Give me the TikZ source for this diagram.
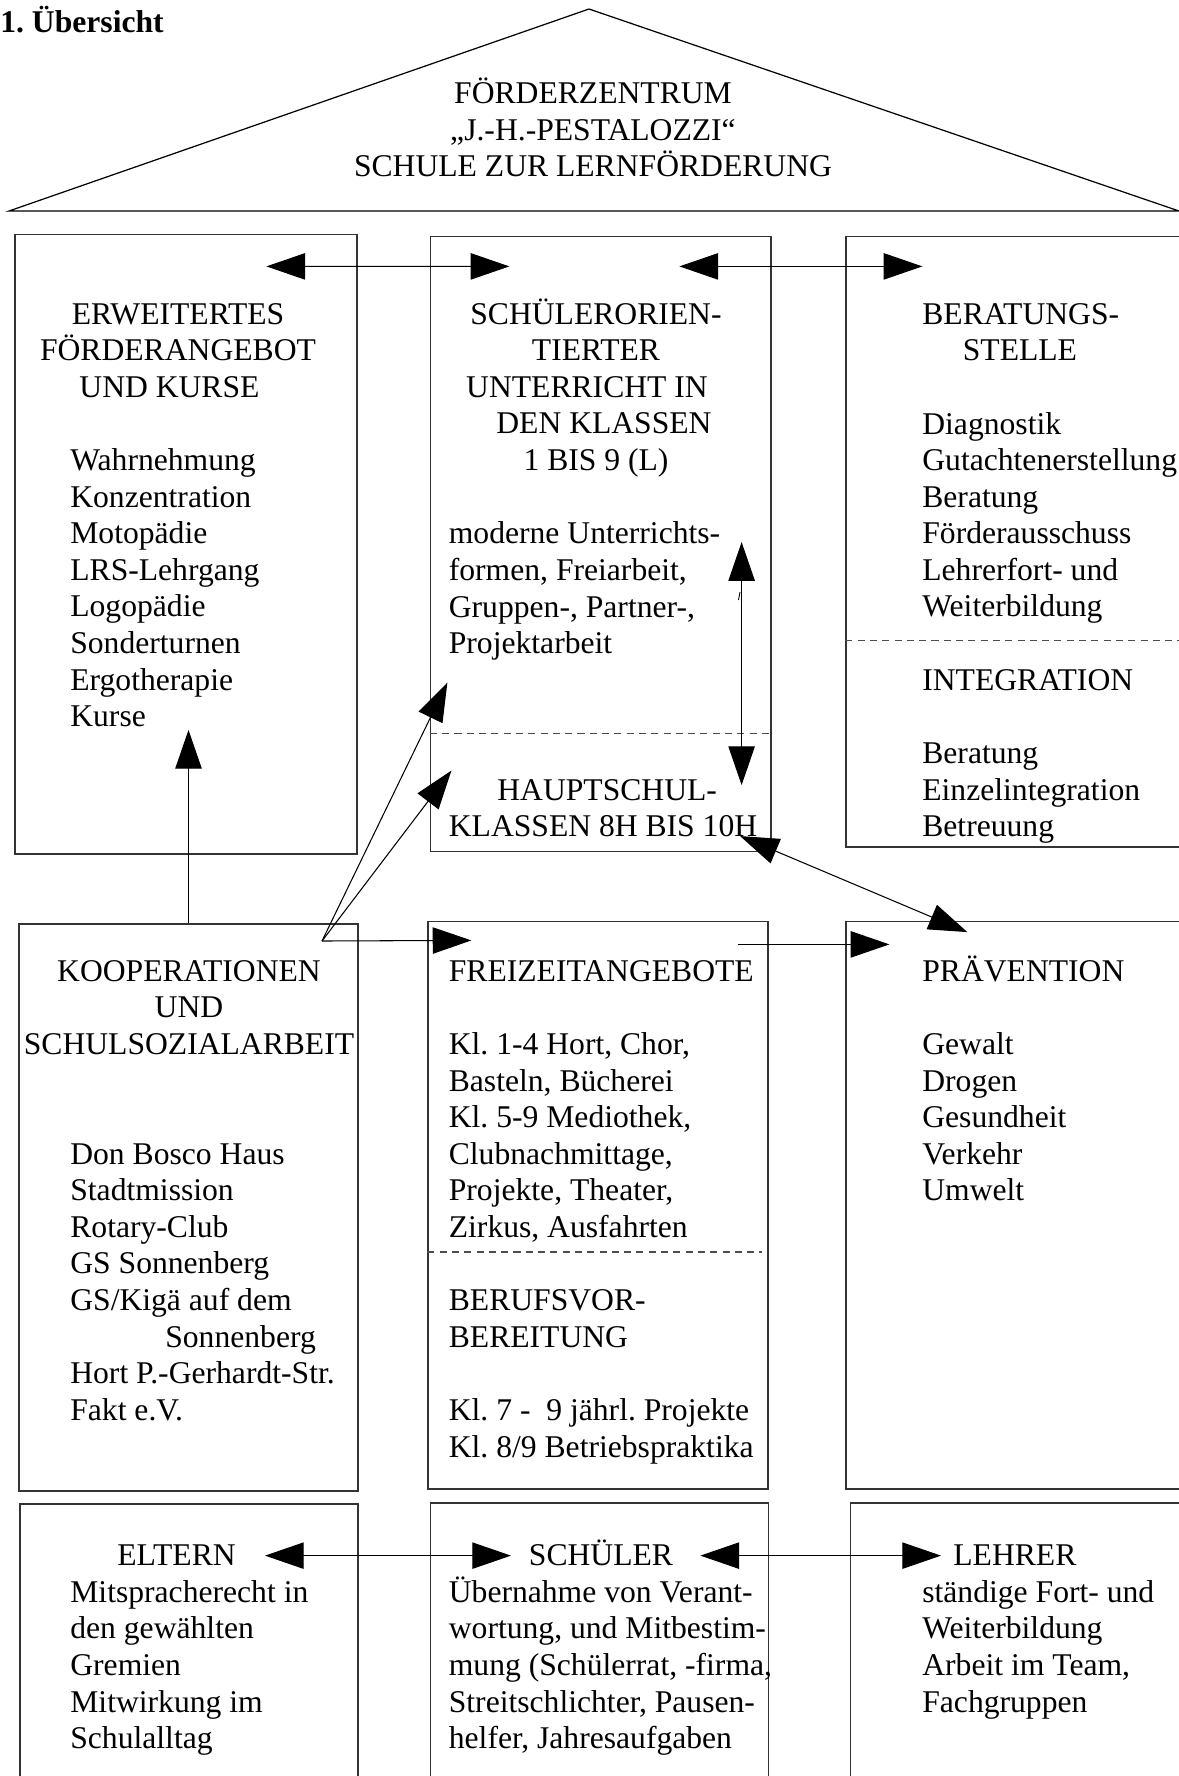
\documentclass[tikz,border=0pt]{standalone}
\usepackage{fontspec}
\setmainfont{Liberation Serif}
\usetikzlibrary{arrows.meta,fit}
\newcommand{\bodyfont}{\fontsize{18pt}{20.8pt}\selectfont\frenchspacing}
\newcommand{\tp}{\rule{0pt}{17pt}}

\begin{document}
\begin{tikzpicture}[x=0.02cm,y=-0.02cm,
  box/.style={draw,black!80,line width=0.7pt,inner sep=0pt},
  txt/.style={inner sep=0pt,anchor=north west,align=left,font=\bodyfont},
  ctxt/.style={txt,anchor=north,align=center},
  arr/.style={-{Triangle[length=22pt,width=15pt]},line width=0.6pt},
  dbl/.style={{Triangle[length=22pt,width=15pt]}-{Triangle[length=22pt,width=15pt]},line width=0.6pt},
  sep/.style={black!70,line width=0.7pt,dash pattern=on 4pt off 3pt}]
\useasboundingbox (0,0) rectangle (1179,1776);
\clip (0,0) rectangle (1179,1776);

\node[txt,font=\bodyfont\bfseries] (title) at (0,2.1) {\tp 1. Übersicht};
\draw[line width=0.7pt] (9,211) -- (589,9) -- (1179,211) -- cycle;
\node[ctxt] (roof_text) at (593,73.5) {\tp FÖRDERZENTRUM\\„J.-H.-PESTALOZZI“\\SCHULE ZUR LERNFÖRDERUNG};

\node[box,fit={(15,234.5) (357,854)}] (box_erw) {};
\node[box,fit={(430.5,236.7) (771,851.5)}] (box_unt) {};
\node[box,fit={(846,236.7) (1260,847)}] (box_ber) {};
\node[box,fit={(19,924) (358,1491)}] (box_koop) {};
\node[box,fit={(428,921.7) (768,1489)}] (box_frei) {};
\node[box,fit={(846,921.7) (1260,1489)}] (box_prae) {};
\node[box,fit={(20,1504) (358,1850)}] (box_elt) {};
\node[box,fit={(430.5,1503) (768.5,1850)}] (box_sch) {};
\node[box,fit={(850.5,1503) (1260,1850)}] (box_leh) {};

\node[ctxt] (erw_head) at (178,294.1) {\tp ERWEITERTES\\FÖRDERANGEBOT\\UND KURSE\rule{0.34cm}{0pt}};
\node[txt] (erw_list) at (70,440.5) {\tp Wahrnehmung\\Konzentration\\Motopädie\\LRS-Lehrgang\\Logopädie\\Sonderturnen\\Ergotherapie\\Kurse};

\node[ctxt] (unt_head) at (596,294.1) {\tp SCHÜLERORIEN-\\TIERTER\\UNTERRICHT IN\rule{0.36cm}{0pt}\\\hspace{0.32cm}DEN KLASSEN\\1 BIS 9 (L)};
\node[txt] (unt_list) at (448.5,513.7) {\tp moderne Unterrichts-\\formen, Freiarbeit,\\Gruppen-, Partner-,\\Projektarbeit};
\node[txt] (haupt) at (448.5,769.9) {\tp\hspace{0.97cm}HAUPTSCHUL-\\KLASSEN 8H BIS 10H};

\node[txt] (ber_head) at (922,294.1) {\tp BERATUNGS-\\\hspace{0.81cm}STELLE};
\node[txt] (ber_list) at (922,403.9) {\tp Diagnostik\\Gutachtenerstellung\\Beratung\\Förderausschuss\\Lehrerfort- und\\Weiterbildung};
\node[txt] (integ) at (922,660.1) {\tp INTEGRATION};
\node[txt] (integ_list) at (922,733.3) {\tp Beratung\\Einzelintegration\\Betreuung};

\node[ctxt] (koop_head) at (189,951.1) {\tp KOOPERATIONEN\\UND\\SCHULSOZIALARBEIT};
\node[txt] (koop_list) at (70,1134.1) {\tp Don Bosco Haus\\Stadtmission\\Rotary-Club\\GS Sonnenberg\\GS/Kigä auf dem\\\hspace{1.9cm}Sonnenberg\\Hort P.-Gerhardt-Str.\\Fakt e.V.};

\node[txt] (frei_head) at (448.5,951.1) {\tp FREIZEITANGEBOTE};
\node[txt] (frei_list) at (448.5,1024.3) {\tp Kl. 1-4 Hort, Chor,\\Basteln, Bücherei\\Kl. 5-9 Mediothek,\\Clubnachmittage,\\Projekte, Theater,\\Zirkus, Ausfahrten};
\node[txt] (beruf_head) at (448.5,1280.5) {\tp BERUFSVOR-\\BEREITUNG};
\node[txt] (beruf_list) at (448.5,1390.3) {\tp Kl. 7 -\ \ 9 jährl. Projekte\\Kl. 8/9 Betriebspraktika};

\node[txt] (prae_head) at (922,951.1) {\tp PRÄVENTION};
\node[txt] (prae_list) at (922,1024.3) {\tp Gewalt\\Drogen\\Gesundheit\\Verkehr\\Umwelt};

\node[txt] (eltern) at (117,1535.6) {\tp ELTERN};
\node[txt] (schueler) at (528.6,1535.6) {\tp SCHÜLER};
\node[txt] (lehrer) at (953,1535.6) {\tp LEHRER};
\node[txt] (eltern_list) at (70,1572.2) {\tp Mitspracherecht in\\den gewählten\\Gremien\\Mitwirkung im\\Schulalltag};
\node[txt] (schueler_list) at (448.5,1572.2) {\tp Übernahme von Verant-\\wortung, und Mitbestim-\\mung (Schülerrat, -firma,\\Streitschlichter, Pausen-\\helfer, Jahresaufgaben};
\node[txt] (lehrer_list) at (922,1572.2) {\tp ständige Fort- und\\Weiterbildung\\Arbeit im Team,\\Fachgruppen};

\draw[sep] ([shift={(0,497.3)}]box_unt.north west) -- ([shift={(0,497.3)}]box_unt.north east);
\draw[sep] ([shift={(0,404.3)}]box_ber.north west) -- ([shift={(0,404.3)}]box_ber.north east);
\draw[sep] ([shift={(0,331)}]box_frei.north west) -- ([shift={(-7,331)}]box_frei.north east);

\draw[dbl] ([shift={(252,32.5)}]box_erw.north west) -- ([shift={(79.5,30.3)}]box_unt.north west);
\draw[dbl] ([shift={(249.5,30.3)}]box_unt.north west) -- ([shift={(77,30.3)}]box_ber.north west);
\draw[dbl] ([shift={(-30,306)}]box_unt.north east) -- ([shift={(-30,549)}]box_unt.north east);
\draw[line width=0.5pt] (738.5,600) -- (740,592);
\draw[arr] (box_koop.north) -- ++(0,-193.5);
\coordinate (koop_src) at (322,941);
\draw[arr] (koop_src) -- ([shift={(17.5,446.5)}]box_unt.north west);
\draw[arr] (koop_src) -- ([shift={(21.5,534.5)}]box_unt.north west);
\draw[arr] (koop_src) -- ([shift={(44,19.3)}]box_frei.north west);
\draw[arr] ([shift={(-31,23.3)}]box_frei.north east) -- ([shift={(44,23.3)}]box_prae.north west);
\draw[dbl] ([shift={(-31.5,600)}]box_unt.north east) -- ([shift={(122,11)}]box_prae.north west);
\draw[dbl] ([shift={(29,-10.2)}]eltern.base east) -- ([shift={(-17.6,-10.2)}]schueler.base west);
\draw[dbl] ([shift={(27,-10.2)}]schueler.base east) -- ([shift={(-12,-10.2)}]lehrer.base west);

\end{tikzpicture}
\end{document}
